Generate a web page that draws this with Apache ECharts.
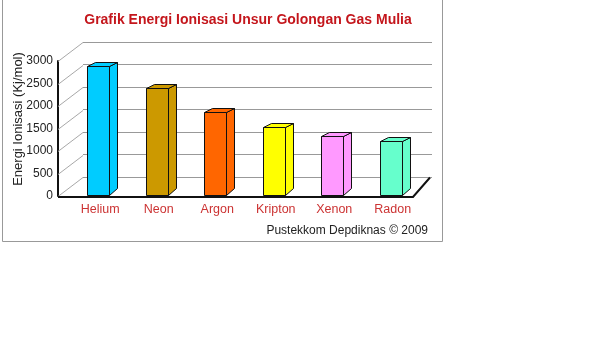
<!DOCTYPE html>
<html><head><meta charset="utf-8">
<script src="https://cdn.jsdelivr.net/npm/echarts@6/dist/echarts.min.js"></script>
<style>html,body{margin:0;padding:0;background:#fff}#c{width:614px;height:360px}</style>
</head><body><div id="c"></div>
<script>
const categories = ['Helium', 'Neon', 'Argon', 'Kripton', 'Xenon', 'Radon'];
const values = [2880, 2390, 1870, 1540, 1340, 1220];
const barColors = ['#00CCFF', '#CC9900', '#FF6600', '#FFFF00', '#FF99FF', '#66FFCC'];
const yTicks = [0, 500, 1000, 1500, 2000, 2500, 3000];
const titleText = 'Grafik Energi Ionisasi Unsur Golongan Gas Mulia';
const yAxisTitle = 'Energi Ionisasi (Kj/mol)';
const creditText = 'Pustekkom Depdiknas \u00A9 2009';

const FONT = 'Arial, "Liberation Sans", sans-serif';
const WALL_DX = 25, WALL_DY = 19;

const chart = echarts.init(document.getElementById('c'), null, { renderer: 'canvas' });

function barItem(params, api) {
  const i = api.value(0), v = api.value(1);
  const top = api.coord([i, v]);
  const base = api.coord([i, 0]);
  const w = 22, dx = 8, dyTop = 4, dyBot = 7;
  const x0 = Math.round(top[0] - 13) + 0.5, x1 = x0 + w;
  const yT = Math.round(top[1]) + 0.5, yB = Math.round(base[1]) - 0.5;
  const st = { fill: barColors[params.dataIndex], stroke: '#111', lineWidth: 1 };
  return {
    type: 'group', children: [
      { type: 'polygon', shape: { points: [[x1, yT], [x1 + dx, yT - dyTop], [x1 + dx, yB - dyBot], [x1, yB]] }, style: st },
      { type: 'polygon', shape: { points: [[x0, yT], [x0 + dx, yT - dyTop], [x1 + dx, yT - dyTop], [x1, yT]] }, style: st },
      { type: 'rect', shape: { x: x0, y: yT, width: w, height: yB - yT }, style: st }
    ]
  };
}

function diagItem(params, api) {
  const p = api.coord([0, api.value(1)]);
  const y = Math.round(p[1]) + 0.5;
  return { type: 'line', shape: { x1: p[0] - WALL_DX, y1: y + WALL_DY, x2: p[0], y2: y }, style: { stroke: '#a8a8a8', lineWidth: 1 } };
}

function floorItem(params, api) {
  const bl = api.coord([0, 0]);
  const br = api.coord([1, 0]);
  const y = Math.round(bl[1]) + 0.5;
  return {
    type: 'polyline',
    shape: { points: [[bl[0] - WALL_DX, y + WALL_DY + 0.5], [br[0] - 19, y + WALL_DY + 0.5], [br[0] - 2, y]] },
    style: { stroke: '#111', lineWidth: 2, fill: null }
  };
}

const option = {
  animation: false,
  backgroundColor: '#fff',
  grid: [
    { left: 71, right: 192, top: 61, bottom: 164 },
    { left: 83, right: 182, top: 42, bottom: 183 }
  ],
  xAxis: [
    { gridIndex: 0, type: 'category', data: categories, axisLine: { show: false }, axisTick: { show: false },
      axisLabel: { color: '#cc3333', fontSize: 12.5, fontFamily: FONT, margin: 7 } },
    { gridIndex: 1, type: 'value', min: 0, max: 1, show: false }
  ],
  yAxis: [
    { gridIndex: 0, type: 'value', min: 0, max: 3000, interval: 500, offset: 13,
      axisLine: { show: true, lineStyle: { color: '#111', width: 2 } }, axisTick: { show: false },
      splitLine: { show: false },
      axisLabel: { color: '#222', fontSize: 12, fontFamily: FONT, margin: 5, formatter: v => String(v) } },
    { gridIndex: 1, type: 'value', min: 0, max: 3000, interval: 500,
      axisLine: { show: false }, axisTick: { show: false }, axisLabel: { show: false },
      splitLine: { show: true, lineStyle: { color: '#999', width: 1 } } }
  ],
  series: [
    { type: 'custom', xAxisIndex: 1, yAxisIndex: 1, data: yTicks.map(v => [0, v]), renderItem: diagItem, silent: true, z: 1 },
    { type: 'custom', xAxisIndex: 1, yAxisIndex: 1, data: [[0, 0]], renderItem: floorItem, silent: true, z: 2 },
    { type: 'custom', xAxisIndex: 0, yAxisIndex: 0, data: values.map((v, i) => [i, v]), renderItem: barItem, z: 3 }
  ],
  graphic: [
    { type: 'rect', shape: { x: 2.5, y: -1, width: 440, height: 242.5 }, style: { fill: null, stroke: '#999', lineWidth: 1 }, z: 0 },
    { type: 'text', x: 248, y: 20, style: { text: titleText, font: 'bold 14px ' + FONT, fill: '#c4161c', align: 'center', verticalAlign: 'middle', textAlign: 'center', textVerticalAlign: 'middle' } },
    { type: 'text', x: 18, y: 119, rotation: Math.PI / 2, style: { text: yAxisTitle, font: '13px ' + FONT, fill: '#222', align: 'center', verticalAlign: 'middle', textAlign: 'center', textVerticalAlign: 'middle' } },
    { type: 'text', x: 428, y: 231, style: { text: creditText, font: '12px ' + FONT, fill: '#222', align: 'right', verticalAlign: 'middle', textAlign: 'right', textVerticalAlign: 'middle' } }
  ]
};
chart.setOption(option);
</script>
</body></html>
